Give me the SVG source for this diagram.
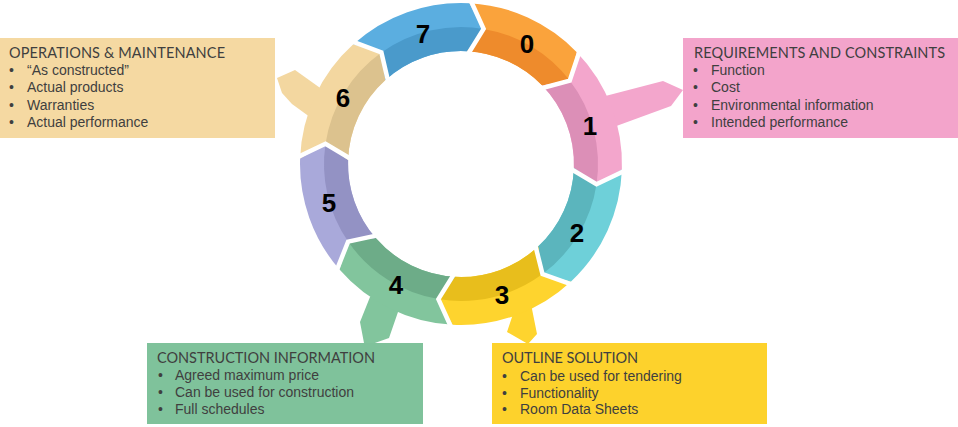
<svg xmlns="http://www.w3.org/2000/svg" width="958" height="427" viewBox="0 0 958 427">
<style>
.num{font-family:"Liberation Sans",Arial,sans-serif;font-weight:bold;font-size:26px;fill:#000;text-anchor:middle}
.ttl{font-family:Lato,"Liberation Sans",sans-serif;font-size:14.5px;fill:#3f3f3f}
.txt{font-family:"Liberation Sans",Arial,sans-serif;font-size:14px;fill:#3f3f3f}
.gap{fill:none;stroke:#fff;stroke-width:4.5;stroke-linejoin:miter}
</style>
<rect width="958" height="427" fill="#fff"/>
<g id="connectors">
<polygon points="590,100 663,81 683,90 671,106 600,132" fill="#F3A6CC"/>
<polygon points="330,95 295,70 277,78 282,93 292,104 314,120" fill="#F3D7A0"/>
<polygon points="385,285 370,297 360,322 364,343 372,344 389,338 398,312 408,300" fill="#82C59D"/>
<polygon points="515,300 512,317 507,332 528,344 537,334 532,309 530,298" fill="#FED42E"/>
</g>
<g id="node-0">
<path d="M469.4,3.2 A161,161 0 0 1 576.8,52.2 L569.7,80.6 L542.3,85.5 A113,113 0 0 0 466.9,51.2 L483.6,28.9 Z" fill="#FAA33C"/>
<path d="M466.9,51.2 A113,113 0 0 1 542.3,85.5 L569.7,80.6 A137,137 0 0 0 483.6,28.9 Z" fill="#EE8B2C"/>
<text class="num" x="527" y="52.5">0</text>
</g>
<g id="node-1">
<path d="M576.8,52.2 A161,161 0 0 1 621.9,169.6 L596.5,184.2 L573.9,167.9 A113,113 0 0 0 542.3,85.5 L569.7,80.6 Z" fill="#F3A6CC"/>
<path d="M542.3,85.5 A113,113 0 0 1 573.9,167.9 L596.5,184.2 A137,137 0 0 0 569.7,80.6 Z" fill="#DC8FB7"/>
<text class="num" x="590" y="134.5">1</text>
</g>
<g id="node-2">
<path d="M621.9,169.6 A161,161 0 0 1 570.8,281.7 L542.5,274.1 L538.1,246.6 A113,113 0 0 0 573.9,167.9 L596.5,184.2 Z" fill="#6ED0D9"/>
<path d="M573.9,167.9 A113,113 0 0 1 538.1,246.6 L542.5,274.1 A137,137 0 0 0 596.5,184.2 Z" fill="#5BB5BD"/>
<text class="num" x="577" y="241.5">2</text>
</g>
<g id="node-3">
<path d="M570.8,281.7 A161,161 0 0 1 452.6,324.8 L438.4,299.1 L455.1,276.8 A113,113 0 0 0 538.1,246.6 L542.5,274.1 Z" fill="#FED42E"/>
<path d="M538.1,246.6 A113,113 0 0 1 455.1,276.8 L438.4,299.1 A137,137 0 0 0 542.5,274.1 Z" fill="#E8BE1C"/>
<text class="num" x="502" y="303.5">3</text>
</g>
<g id="node-4">
<path d="M452.6,324.8 A161,161 0 0 1 339.5,269.6 L348.1,241.6 L375.7,238.1 A113,113 0 0 0 455.1,276.8 L438.4,299.1 Z" fill="#82C59D"/>
<path d="M455.1,276.8 A113,113 0 0 1 375.7,238.1 L348.1,241.6 A137,137 0 0 0 438.4,299.1 Z" fill="#6DAC88"/>
<text class="num" x="396" y="293.5">4</text>
</g>
<g id="node-5">
<path d="M339.5,269.6 A161,161 0 0 1 300.1,158.4 L325.5,143.7 L348.1,160.1 A113,113 0 0 0 375.7,238.1 L348.1,241.6 Z" fill="#A9A9DA"/>
<path d="M375.7,238.1 A113,113 0 0 1 348.1,160.1 L325.5,143.7 A137,137 0 0 0 348.1,241.6 Z" fill="#9392C4"/>
<text class="num" x="329" y="211.5">5</text>
</g>
<g id="node-6">
<path d="M300.1,158.4 A161,161 0 0 1 353.3,44.3 L381.4,52.5 L385.4,80.0 A113,113 0 0 0 348.1,160.1 L325.5,143.7 Z" fill="#F3D7A0"/>
<path d="M348.1,160.1 A113,113 0 0 1 385.4,80.0 L381.4,52.5 A137,137 0 0 0 325.5,143.7 Z" fill="#DCC28E"/>
<text class="num" x="343" y="106.5">6</text>
</g>
<g id="node-7">
<path d="M353.3,44.3 A161,161 0 0 1 469.4,3.2 L483.6,28.9 L466.9,51.2 A113,113 0 0 0 385.4,80.0 L381.4,52.5 Z" fill="#5BAEE0"/>
<path d="M385.4,80.0 A113,113 0 0 1 466.9,51.2 L483.6,28.9 A137,137 0 0 0 381.4,52.5 Z" fill="#4A9ACB"/>
<text class="num" x="423" y="42.5">7</text>
</g>
<g id="gaps">
<polyline class="gap" points="469.7,-1.8 483.6,28.9 466.7,56.2"/>
<polyline class="gap" points="580.4,48.7 569.7,80.6 538.7,89.0"/>
<polyline class="gap" points="626.9,169.8 596.5,184.2 568.9,167.8"/>
<polyline class="gap" points="574.2,285.4 542.5,274.1 534.7,243.0"/>
<polyline class="gap" points="452.3,329.8 438.4,299.1 455.4,271.9"/>
<polyline class="gap" points="335.7,272.9 348.1,241.6 379.5,234.9"/>
<polyline class="gap" points="295.1,158.2 325.5,143.7 353.1,160.2"/>
<polyline class="gap" points="349.9,40.6 381.4,52.5 388.7,83.7"/>
</g>
<g id="box-operations">
<rect x="0" y="38" width="275" height="100" fill="#F5D9A2"/>
<text class="ttl" x="9" y="57.5" textLength="216" lengthAdjust="spacing">OPERATIONS &amp; MAINTENANCE</text>
<text class="txt" x="9" y="75">•</text><text class="txt" x="27" y="75">“As constructed”</text>
<text class="txt" x="9" y="92">•</text><text class="txt" x="27" y="92">Actual products</text>
<text class="txt" x="9" y="109.5">•</text><text class="txt" x="27" y="109.5">Warranties</text>
<text class="txt" x="9" y="126.5">•</text><text class="txt" x="27" y="126.5">Actual performance</text>
</g>
<g id="box-requirements">
<rect x="683" y="38" width="275" height="100" fill="#F3A4CB"/>
<text class="ttl" x="694" y="57.5" textLength="251" lengthAdjust="spacing">REQUIREMENTS AND CONSTRAINTS</text>
<text class="txt" x="693" y="75">•</text><text class="txt" x="711" y="75">Function</text>
<text class="txt" x="693" y="92">•</text><text class="txt" x="711" y="92">Cost</text>
<text class="txt" x="693" y="109.5">•</text><text class="txt" x="711" y="109.5">Environmental  information</text>
<text class="txt" x="693" y="126.5">•</text><text class="txt" x="711" y="126.5">Intended performance</text>
</g>
<g id="box-construction">
<rect x="147" y="343" width="276" height="81" fill="#7FC29B"/>
<text class="ttl" x="157" y="363" textLength="218" lengthAdjust="spacing">CONSTRUCTION INFORMATION</text>
<text class="txt" x="158" y="380">•</text><text class="txt" x="175" y="380">Agreed maximum  price</text>
<text class="txt" x="158" y="397">•</text><text class="txt" x="175" y="397">Can be used for construction</text>
<text class="txt" x="158" y="414">•</text><text class="txt" x="175" y="414">Full schedules</text>
</g>
<g id="box-outline">
<rect x="492" y="343" width="275" height="81" fill="#FDD22C"/>
<text class="ttl" x="502" y="363" textLength="136" lengthAdjust="spacing">OUTLINE SOLUTION</text>
<text class="txt" x="502" y="380.5">•</text><text class="txt" x="520" y="380.5">Can be used for tendering</text>
<text class="txt" x="502" y="397.5">•</text><text class="txt" x="520" y="397.5">Functionality</text>
<text class="txt" x="502" y="414">•</text><text class="txt" x="520" y="414">Room Data Sheets</text>
</g>
</svg>
